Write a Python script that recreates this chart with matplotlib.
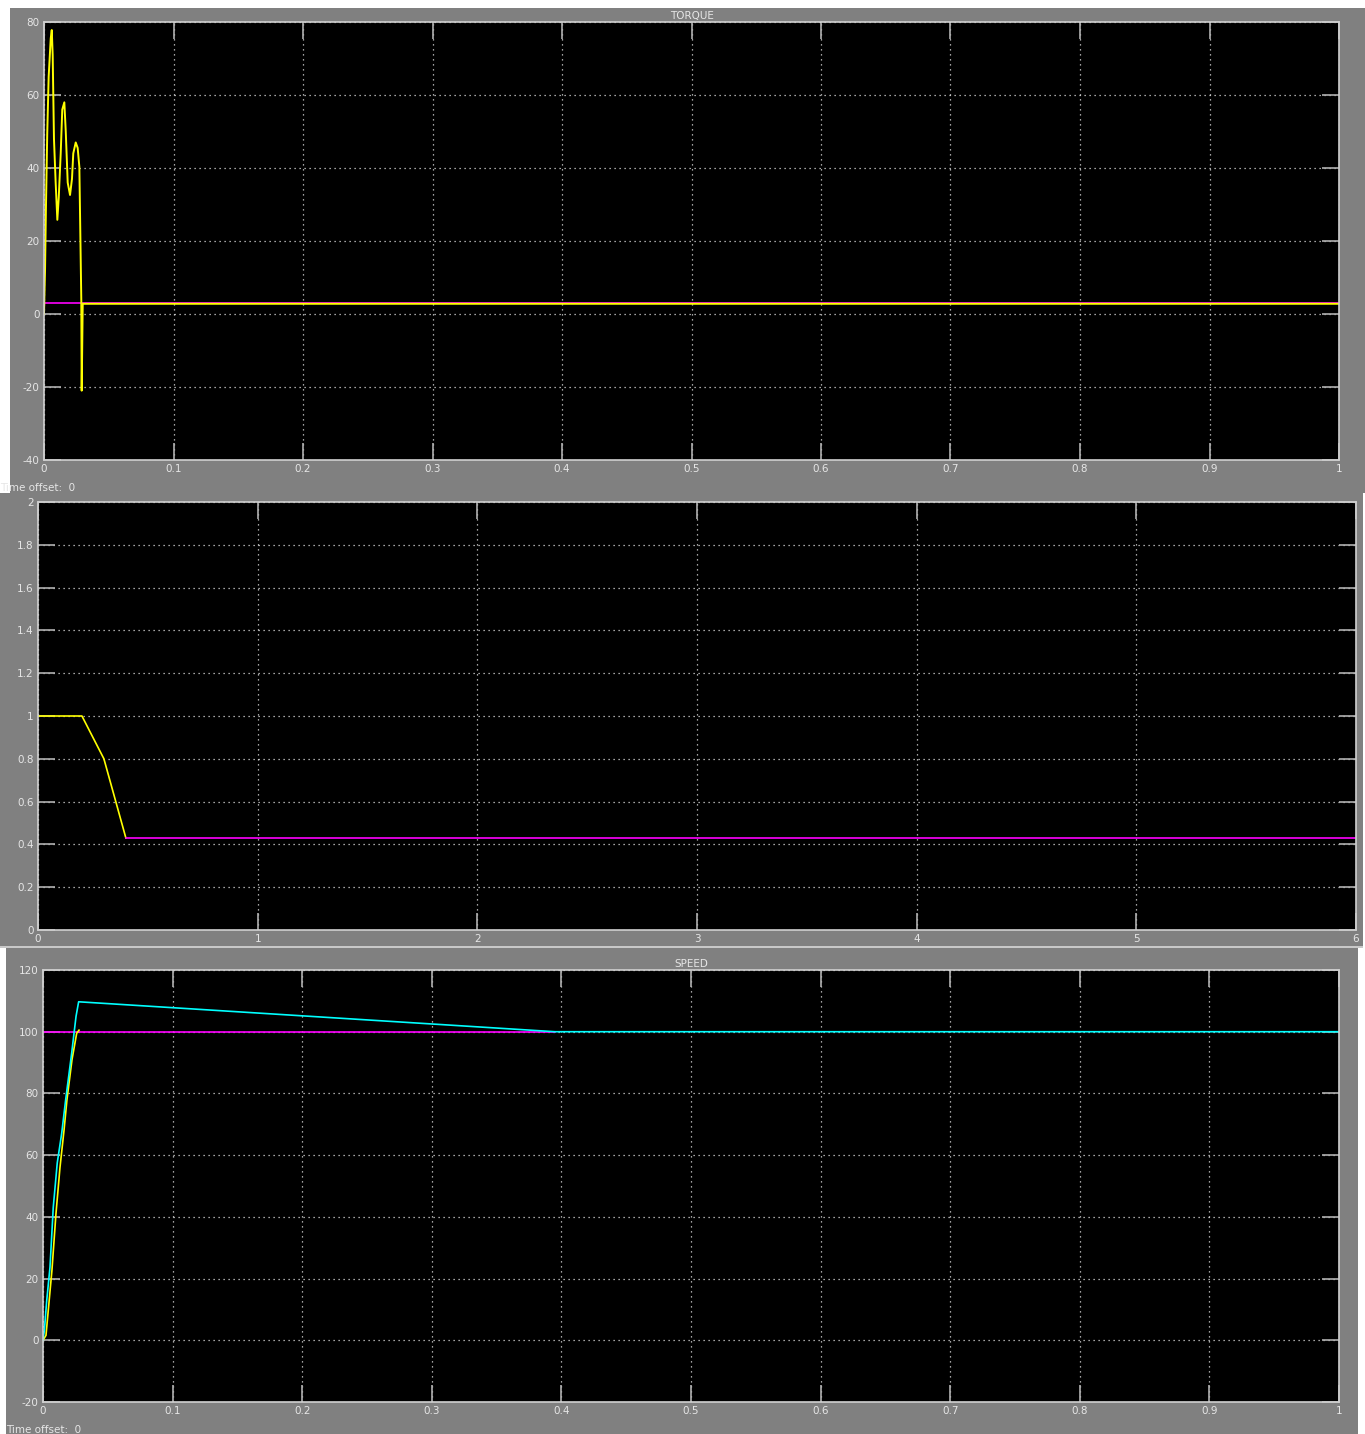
import matplotlib
matplotlib.use('Agg')
import matplotlib.pyplot as plt
from matplotlib.patches import Rectangle

W, H = 1365, 1434

# torque scope
torque_t = [0.0, 0.0008, 0.0015, 0.0025, 0.0036, 0.0052, 0.006, 0.0067, 0.0077, 0.009,
            0.0103, 0.0114, 0.0129, 0.0141, 0.0157, 0.0168, 0.0183, 0.0201, 0.0216,
            0.0226, 0.0245, 0.026, 0.0273, 0.0283, 0.0288, 0.0291, 0.0299, 0.5, 1.0]
torque_y = [0.0, 12.0, 29.0, 49.5, 65.0, 75.5, 77.8, 71.0, 48.0, 36.0,
            25.8, 32.0, 44.0, 56.0, 58.0, 50.0, 36.0, 32.6, 37.0,
            44.0, 47.0, 45.5, 40.3, 16.0, 3.8, -21.0, 2.8, 2.8, 2.8]
torque_ref_t = [0.0, 1.0]
torque_ref_y = [3.0, 3.0]

# middle scope
mid_t = [0.0, 0.2, 0.28, 0.3, 0.4]
mid_y = [1.0, 1.0, 0.84, 0.8, 0.43]
mid_ref_t = [0.4, 6.0]
mid_ref_y = [0.43, 0.43]

# speed scope
speed_t = [0.0, 0.001, 0.0029, 0.0054, 0.0079, 0.011, 0.0144, 0.0175, 0.0221, 0.0255,
           0.0275, 0.395, 1.0]
speed_y = [0.0, 3.0, 13.0, 23.7, 43.0, 57.5, 67.0, 78.0, 93.0, 105.0,
           109.7, 100.0, 100.0]
speed2_t = [0.0, 0.0023, 0.0069, 0.01, 0.0131, 0.0162, 0.0185, 0.0224, 0.026, 0.0278]
speed2_y = [0.0, 1.6, 22.7, 41.0, 56.0, 68.0, 78.0, 91.0, 99.5, 100.5]
speed_ref_t = [0.0, 0.395]
speed_ref_y = [100.0, 100.0]

grey = '#808080'
txt = '#e6e6e6'


def frac(x0, y0, x1, y1):
    return [x0 / W, 1 - y1 / H, (x1 - x0) / W, (y1 - y0) / H]


fig = plt.figure(figsize=(W / 100, H / 100), dpi=100, facecolor='white')

for (x0, y0, x1, y1) in [(10, 8, 1365, 493), (0, 493, 1363, 946), (6, 948, 1358, 1434)]:
    fig.patches.append(Rectangle((x0 / W, 1 - y1 / H), (x1 - x0) / W, (y1 - y0) / H,
                                 transform=fig.transFigure, facecolor=grey,
                                 edgecolor='none', zorder=-10))
fig.patches.append(Rectangle((0, 1 - 948 / H), 1363 / W, 2 / H, transform=fig.transFigure,
                             facecolor='#c8c8c8', edgecolor='none', zorder=-10))


def style(ax, xt, xl, yt, yl):
    ax.set_facecolor('black')
    ax.set_xticks(xt)
    ax.set_xticklabels(xl)
    ax.set_yticks(yt)
    ax.set_yticklabels(yl)
    ax.tick_params(direction='in', length=12, width=1.2, color='#b0b0b0',
                   top=True, right=True, labelsize=7.5, labelcolor=txt, pad=3)
    ax.grid(True, linestyle=(0, (1, 3)), color='white', linewidth=0.9, alpha=0.85)
    for s in ax.spines.values():
        s.set_color('#d0d0d0')
        s.set_linewidth(1.2)


ax1 = fig.add_axes(frac(44, 22, 1339, 460))
ax1.plot(torque_ref_t, torque_ref_y, color='#ff00ff', lw=1.2)
ax1.plot(torque_t, torque_y, color='#ffff00', lw=1.4)
ax1.set_xlim(0, 1)
ax1.set_ylim(-40, 80)
style(ax1, [i / 10 for i in range(11)], ['0'] + ['0.%d' % i for i in range(1, 10)] + ['1'],
      list(range(-40, 81, 20)), [str(v) for v in range(-40, 81, 20)])
ax1.set_title('TORQUE', color=txt, fontsize=7.5, pad=2)

ax2 = fig.add_axes(frac(38, 502, 1356, 930))
ax2.plot(mid_t, mid_y, color='#ffff00', lw=1.2)
ax2.plot(mid_ref_t, mid_ref_y, color='#ff00ff', lw=1.2)
ax2.set_xlim(0, 6)
ax2.set_ylim(0, 2)
style(ax2, list(range(7)), [str(i) for i in range(7)],
      [i / 5 for i in range(11)], ['0', '0.2', '0.4', '0.6', '0.8', '1', '1.2', '1.4', '1.6', '1.8', '2'])

ax3 = fig.add_axes(frac(43, 970, 1339, 1402))
ax3.plot(speed_ref_t, speed_ref_y, color='#ff00ff', lw=1.2)
ax3.plot(speed2_t, speed2_y, color='#ffff00', lw=1.2)
ax3.plot(speed_t, speed_y, color='#00ffff', lw=1.2)
ax3.set_xlim(0, 1)
ax3.set_ylim(-20, 120)
style(ax3, [i / 10 for i in range(11)], ['0'] + ['0.%d' % i for i in range(1, 10)] + ['1'],
      list(range(-20, 121, 20)), [str(v) for v in range(-20, 121, 20)])
ax3.set_title('SPEED', color=txt, fontsize=7.5, pad=2)

fig.text(0 / W, 1 - 488 / H, 'Time offset:  0', color=txt, fontsize=7.5, va='center', ha='left')
fig.text(6 / W, 1 - 1430 / H, 'Time offset:  0', color=txt, fontsize=7.5, va='center', ha='left')

fig.savefig('out.png', dpi=100, facecolor='white')
